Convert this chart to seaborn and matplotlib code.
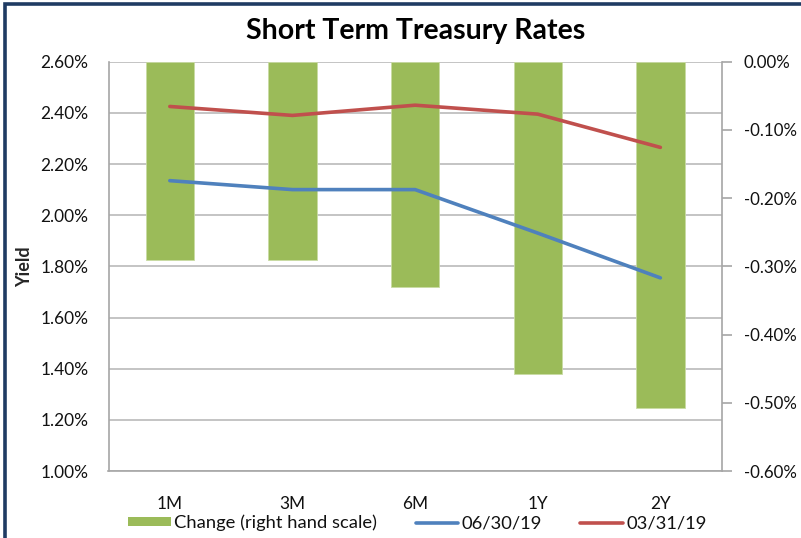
import matplotlib
matplotlib.use("Agg")
import matplotlib.pyplot as plt
import matplotlib.patches as mpatches
import matplotlib.lines as mlines
from matplotlib.ticker import FuncFormatter, FixedLocator
import numpy as np
import pandas as pd
import seaborn as sns

# ---- data (percent) ----
tenors = ["1M", "3M", "6M", "1Y", "2Y"]
rates_0630 = [2.135, 2.10, 2.10, 1.93, 1.755]
rates_0331 = [2.425, 2.39, 2.43, 2.395, 2.265]
change = [-0.29, -0.29, -0.33, -0.458, -0.507]
left_ticks = [1.00, 1.20, 1.40, 1.60, 1.80, 2.00, 2.20, 2.40, 2.60]
right_ticks = [-0.60, -0.50, -0.40, -0.30, -0.20, -0.10, 0.00]

GREEN = "#9BBB59"
BLUE = "#4F81BD"
RED = "#C0504D"
GRID = "#BFBFBF"
SPINE = "#A6A6A6"
NAVY = "#1F3B63"

sns.set_theme(style="white")
plt.rcParams["font.family"] = ["Lato", "DejaVu Sans"]

W, H = 801, 538
fig = plt.figure(figsize=(W / 100, H / 100), dpi=100)
fig.patch.set_facecolor("white")

L, R, T, B = 108.5, 721.7, 61.7, 471.0
ax1 = fig.add_axes([L / W, 1 - B / H, (R - L) / W, (B - T) / H])
ax2 = ax1.twinx()
ax3 = ax1.twinx()

pos = np.arange(len(tenors))

# grid / left axis
ax1.set_ylim(1.0, 2.6)
ax1.set_xlim(-0.5, len(tenors) - 0.5)
ax1.yaxis.set_major_locator(FixedLocator(left_ticks))
ax1.yaxis.set_major_formatter(FuncFormatter(lambda v, p: f"{v:.2f}%"))
ax1.grid(axis="y", color=GRID, linewidth=1.3)
ax1.grid(axis="x", visible=False)
ax1.set_axisbelow(True)
ax1.tick_params(axis="y", length=0, pad=14.5, labelsize=12.4, labelcolor="#111111")
ax1.tick_params(axis="x", length=0, pad=18, labelsize=12.4, labelcolor="#111111")
ax1.set_xticks(pos)
ax1.set_xticklabels(tenors)
for s in ["top", "right"]:
    ax1.spines[s].set_visible(False)
for s in ["left", "bottom"]:
    ax1.spines[s].set_color(SPINE)
    ax1.spines[s].set_linewidth(1.2)
ax1.set_ylabel("Yield", fontsize=13, fontweight="bold", labelpad=5)

# bars on right axis
df_bar = pd.DataFrame({"tenor": tenors, "change": change})
sns.barplot(data=df_bar, x="tenor", y="change", ax=ax2, color=GREEN,
            width=0.395, saturation=1, edgecolor="#C9DBA3", linewidth=0.6)
ax2.set_xlim(-0.5, len(tenors) - 0.5)
ax2.set_ylim(-0.6, 0.0)
ax2.yaxis.set_major_locator(FixedLocator(right_ticks))
ax2.yaxis.set_major_formatter(FuncFormatter(lambda v, p: f"{v:.2f}%"))
ax2.set_ylabel("")
ax2.set_xlabel("")
ax2.tick_params(axis="y", length=7, width=1.2, color=SPINE, pad=9,
                labelsize=12.2, labelcolor="#111111", right=True)
ax2.tick_params(axis="x", length=0, labelbottom=False)
for s in ["top", "left", "bottom"]:
    ax2.spines[s].set_visible(False)
ax2.spines["right"].set_color(SPINE)
ax2.spines["right"].set_linewidth(1.2)
ax2.grid(False)

# lines on top (same scale as left)
df_lines = pd.DataFrame({
    "pos": np.concatenate([pos, pos]),
    "rate": rates_0630 + rates_0331,
    "series": ["06/30/19"] * len(tenors) + ["03/31/19"] * len(tenors),
})
sns.lineplot(data=df_lines, x="pos", y="rate", hue="series",
             palette={"06/30/19": BLUE, "03/31/19": RED}, ax=ax3,
             linewidth=2.6, sort=False, legend=False,
             solid_capstyle="round", solid_joinstyle="round")
ax3.set_ylim(1.0, 2.6)
ax3.set_xlim(-0.5, len(tenors) - 0.5)
ax3.axis("off")

# title
fig.text(416 / W, 1 - 31 / H, "Short Term Treasury Rates", ha="center",
         va="center", fontsize=20.5, fontweight="bold", color="#000000")

# legend
handles = [
    mpatches.Patch(facecolor=GREEN, edgecolor="none", label="Change (right hand scale)"),
    mlines.Line2D([], [], color=BLUE, linewidth=2.6, label="06/30/19"),
    mlines.Line2D([], [], color=RED, linewidth=2.6, label="03/31/19"),
]
fig.legend(handles=handles, loc="center", bbox_to_anchor=(417.5 / W, 1 - 523 / H),
           ncol=3, frameon=False, fontsize=13.2, handlelength=2.3,
           handleheight=0.42, handletextpad=0.2, columnspacing=2.1,
           labelcolor="#111111")

# outer border (cropped on right and bottom)
fig.patches.append(mpatches.Rectangle((4.7 / W, -0.2), 1.2, 1.2 - 4.3 / H,
                                      transform=fig.transFigure, fill=False,
                                      edgecolor=NAVY, linewidth=2.6))

fig.savefig("out.png", dpi=100)
